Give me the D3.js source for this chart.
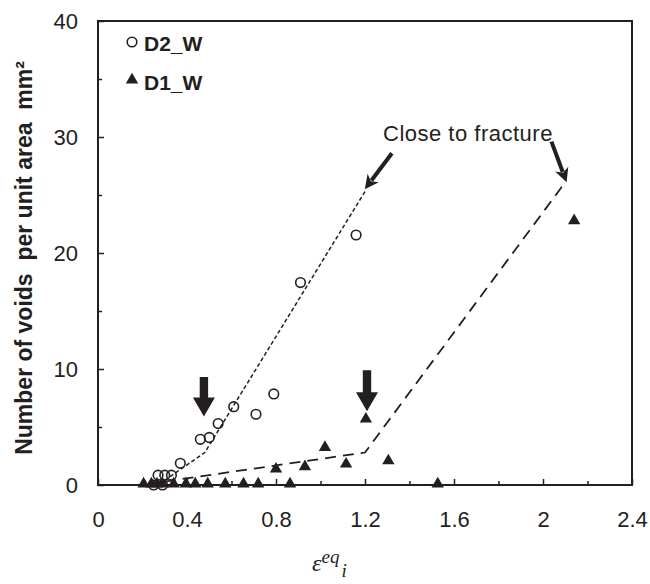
<!DOCTYPE html>
<html><head><meta charset="utf-8">
<script src="https://cdn.jsdelivr.net/npm/d3@7"></script>
<style>body{margin:0;background:#fff}svg{display:block}</style>
</head><body>
<svg id="c" width="650" height="584"></svg>
<script>
// ---- data ----
const xTicks = [0, 0.4, 0.8, 1.2, 1.6, 2, 2.4];
const xMinorTicks = [0.2, 0.6, 1.0, 1.4, 1.8, 2.2];
const yTicks = [0, 10, 20, 30, 40];
const yMinorTicks = [5, 15, 25, 35];
const seriesNames = ["D2_W", "D1_W"];
const d2x = [0.25, 0.29, 0.27, 0.30, 0.33, 0.37, 0.46, 0.50, 0.54, 0.61, 0.71, 0.79, 0.91, 1.16];
const d2y = [0, 0, 0.85, 0.85, 0.85, 1.87, 3.94, 4.1, 5.3, 6.75, 6.1, 7.85, 17.45, 21.55];
const d1x = [0.205, 0.24, 0.265, 0.29, 0.34, 0.395, 0.437, 0.493, 0.572, 0.654, 0.72, 0.863, 1.527,
             0.80, 0.93, 1.02, 1.115, 1.204, 1.305, 2.14];
const d1y = [0, 0, 0, 0, 0, 0, 0, 0, 0, 0, 0, 0, 0,
             1.29, 1.49, 3.16, 1.72, 5.6, 2.0, 22.7];
const d2FitX = [0.3, 0.48, 1.2];
const d2FitY = [0.4, 2.8, 25.3];
const d1FitX = [0.3, 1.2, 2.1];
const d1FitY = [0.3, 2.8, 26.1];
// block arrows (x, yTop, yTip)
const blockArrowX = [0.476, 1.209];
const blockArrowTop = [9.3, 9.9];
const blockArrowTip = [5.9, 6.35];
// thin annotation arrows
const noteArrowFrom = [[1.321, 28.6], [2.038, 29.6]];
const noteArrowTo = [[1.199, 25.5], [2.106, 26.1]];
const noteText = "Close to fracture";
const notePos = [1.281, 29.65];

// ---- chart ----
const svg = d3.select("#c");
const L = 98, R = 632, T = 21, B = 485;
const x = d3.scaleLinear().domain([0, 2.4]).range([L, R]);
const y = d3.scaleLinear().domain([0, 40]).range([B, T]);
const ink = "#231f20";
const font = "'Liberation Sans', Arial, sans-serif";

// minor ticks
svg.append("g").attr("transform", `translate(0,${B})`)
  .call(d3.axisBottom(x).tickValues(xMinorTicks).tickSizeInner(-4).tickSizeOuter(0).tickFormat(""))
  .call(g => g.select(".domain").remove())
  .selectAll("line").attr("stroke", ink).attr("stroke-width", 1.5);
svg.append("g").attr("transform", `translate(${L},0)`)
  .call(d3.axisLeft(y).tickValues(yMinorTicks).tickSizeInner(-4).tickSizeOuter(0).tickFormat(""))
  .call(g => g.select(".domain").remove())
  .selectAll("line").attr("stroke", ink).attr("stroke-width", 1.5);

// major axes
const xa = svg.append("g").attr("transform", `translate(0,${B})`)
  .call(d3.axisBottom(x).tickValues(xTicks).tickSizeInner(-6).tickSizeOuter(0).tickPadding(26)
    .tickFormat(d => d3.format("~g")(d)));
xa.select(".domain").remove();
xa.selectAll("line").attr("stroke", ink).attr("stroke-width", 1.5);
xa.selectAll("text").attr("font-family", font).attr("font-size", 22).attr("fill", ink);

const ya = svg.append("g").attr("transform", `translate(${L},0)`)
  .call(d3.axisLeft(y).tickValues(yTicks).tickSizeInner(-6).tickSizeOuter(0).tickPadding(20));
ya.select(".domain").remove();
ya.selectAll("line").attr("stroke", ink).attr("stroke-width", 1.5);
ya.selectAll("text").attr("font-family", font).attr("font-size", 22).attr("fill", ink);

// frame
svg.append("rect").attr("x", L).attr("y", T).attr("width", R - L).attr("height", B - T)
  .attr("fill", "none").attr("stroke", ink).attr("stroke-width", 2);

// fit lines
const line = d3.line().x(d => x(d[0])).y(d => y(d[1]));
svg.append("path").datum(d2FitX.map((v, i) => [v, d2FitY[i]])).attr("d", line)
  .attr("fill", "none").attr("stroke", ink).attr("stroke-width", 1.5).attr("stroke-dasharray", "4,2.5");
svg.append("path").datum(d1FitX.map((v, i) => [v, d1FitY[i]])).attr("d", line)
  .attr("fill", "none").attr("stroke", ink).attr("stroke-width", 1.8).attr("stroke-dasharray", "11,7");

// markers
const tri = d3.symbol().type(d3.symbolTriangle).size(66);
svg.append("g").selectAll("circle").data(d2x.map((v, i) => [v, d2y[i]])).join("circle")
  .attr("cx", d => x(d[0])).attr("cy", d => y(d[1])).attr("r", 4.8)
  .attr("fill", "none").attr("stroke", ink).attr("stroke-width", 1.6);
svg.append("g").selectAll("path").data(d1x.map((v, i) => [v, d1y[i]])).join("path")
  .attr("d", tri).attr("transform", d => `translate(${x(d[0])},${y(d[1]) - 1})`)
  .attr("fill", ink);

// block arrows
blockArrowX.forEach((bx, i) => {
  const cx = x(bx), top = y(blockArrowTop[i]), tip = y(blockArrowTip[i]);
  const hl = 19, hw = 11, sw = 4.2;
  const pts = [[cx - sw, top], [cx + sw, top], [cx + sw, tip - hl], [cx + hw, tip - hl], [cx, tip],
               [cx - hw, tip - hl], [cx - sw, tip - hl]];
  svg.append("path").attr("d", "M" + pts.map(p => p.join(",")).join("L") + "Z").attr("fill", ink);
});

// thin arrows
noteArrowFrom.forEach((f, i) => {
  const x0 = x(f[0]), y0 = y(f[1]), x1 = x(noteArrowTo[i][0]), y1 = y(noteArrowTo[i][1]);
  const ang = Math.atan2(y1 - y0, x1 - x0);
  const hl = 14, hw = 7;
  const bx = x1 - hl * Math.cos(ang), by = y1 - hl * Math.sin(ang);
  svg.append("line").attr("x1", x0).attr("y1", y0).attr("x2", bx + 3 * Math.cos(ang)).attr("y2", by + 3 * Math.sin(ang))
    .attr("stroke", ink).attr("stroke-width", 4);
  const px = -Math.sin(ang), py = Math.cos(ang);
  svg.append("path").attr("d", `M${x1},${y1}L${bx + hw * px},${by + hw * py}L${bx + 4 * Math.cos(ang)},${by + 4 * Math.sin(ang)}L${bx - hw * px},${by - hw * py}Z`)
    .attr("fill", ink);
});
svg.append("text").attr("x", x(notePos[0])).attr("y", y(notePos[1]))
  .attr("font-family", font).attr("font-size", 22).attr("letter-spacing", 0.5).attr("fill", ink).text(noteText);

// legend
const lg = svg.append("g");
lg.append("circle").attr("cx", 132).attr("cy", 42).attr("r", 4.8).attr("fill", "none").attr("stroke", ink).attr("stroke-width", 1.6);
lg.append("path").attr("d", tri).attr("transform", "translate(132,80)").attr("fill", ink);
lg.append("text").attr("x", 144).attr("y", 51).attr("font-family", font).attr("font-weight", "bold").attr("font-size", 21).attr("fill", ink).text(seriesNames[0]);
lg.append("text").attr("x", 144).attr("y", 90).attr("font-family", font).attr("font-weight", "bold").attr("font-size", 21).attr("fill", ink).text(seriesNames[1]);

// y label
svg.append("text").attr("transform", "translate(32,258) rotate(-90)").attr("text-anchor", "middle")
  .attr("font-family", font).attr("font-weight", "bold").attr("font-size", 23).attr("fill", ink)
  .attr("xml:space", "preserve")
  .text("Number of voids  per unit area  mm²");

// x label
const xl = svg.append("text").attr("x", 312).attr("y", 571).attr("font-family", "'Liberation Serif', 'Times New Roman', serif")
  .attr("font-style", "italic").attr("font-size", 24).attr("fill", ink);
xl.append("tspan").text("ε");
xl.append("tspan").attr("dy", -8).attr("font-size", 19).text("eq");
xl.append("tspan").attr("dy", 14).attr("dx", 2).attr("font-size", 19).text("i");
</script>
</body></html>
